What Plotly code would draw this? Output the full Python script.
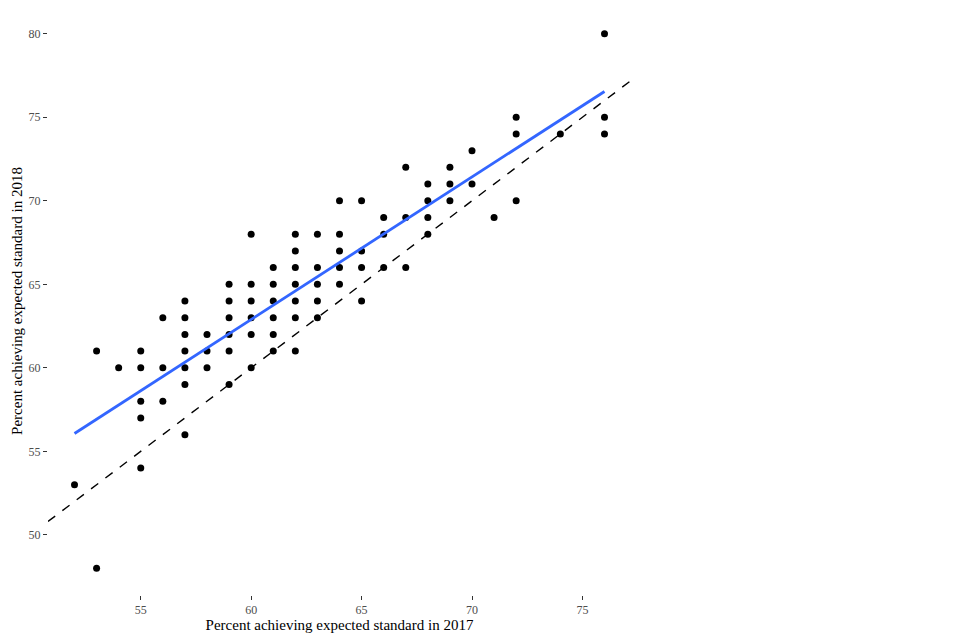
import numpy as np
import plotly.graph_objects as go

# Data (2017 % vs 2018 %)
x2017 = [52, 53, 53, 54,
         55, 55, 55, 55, 55,
         56, 56, 56,
         57, 57, 57, 57, 57, 57, 57,
         58, 58, 58,
         59, 59, 59, 59, 59, 59,
         60, 60, 60, 60, 60, 60,
         61, 61, 61, 61, 61, 61,
         62, 62, 62, 62, 62, 62, 62,
         63, 63, 63, 63, 63,
         64, 64, 64, 64, 64,
         65, 65, 65, 65,
         66, 66, 66,
         67, 67, 67,
         68, 68, 68, 68,
         69, 69, 69,
         70, 70,
         71,
         72, 72, 72,
         74,
         76, 76, 76]
y2018 = [53, 61, 48, 60,
         61, 60, 58, 57, 54,
         63, 60, 58,
         64, 63, 62, 61, 60, 59, 56,
         62, 61, 60,
         65, 64, 63, 62, 61, 59,
         68, 65, 64, 63, 62, 60,
         66, 65, 64, 63, 62, 61,
         68, 67, 66, 65, 64, 63, 61,
         68, 66, 65, 64, 63,
         70, 68, 67, 66, 65,
         70, 67, 66, 64,
         69, 68, 66,
         72, 69, 66,
         71, 70, 69, 68,
         72, 71, 70,
         73, 71,
         69,
         75, 74, 70,
         74,
         80, 75, 74]

x_ticks = [55, 60, 65, 70, 75]
y_ticks = [50, 55, 60, 65, 70, 75, 80]
x_title = "Percent achieving expected standard in 2017"
y_title = "Percent achieving expected standard in 2018"

xa = np.array(x2017, dtype=float)
ya = np.array(y2018, dtype=float)
slope, intercept = np.polyfit(xa, ya, 1)
fit_x = np.array([xa.min(), xa.max()])
fit_y = slope * fit_x + intercept

xpad = (xa.max() - xa.min()) * 0.05
ypad = (ya.max() - ya.min()) * 0.05
xr = [xa.min() - xpad, xa.max() + xpad]
yr = [ya.min() - ypad, ya.max() + ypad]

fig = go.Figure()
fig.add_trace(go.Scatter(x=xa, y=ya, mode="markers",
                         marker=dict(color="black", size=7),
                         showlegend=False, hoverinfo="skip"))
fig.add_trace(go.Scatter(x=xr, y=xr, mode="lines",
                         line=dict(color="black", width=1.4, dash="dash"),
                         showlegend=False, hoverinfo="skip"))
fig.add_trace(go.Scatter(x=fit_x, y=fit_y, mode="lines",
                         line=dict(color="#3366FF", width=2.8),
                         showlegend=False, hoverinfo="skip"))

fig.update_layout(
    width=960, height=640,
    margin=dict(l=48, r=329, t=7, b=45, autoexpand=False),
    plot_bgcolor="white", paper_bgcolor="white",
    font=dict(family="Liberation Serif", color="#4D4D4D"),
)
fig.update_xaxes(range=xr, tickvals=x_ticks, showgrid=False, zeroline=False,
                 showline=False, ticks="outside", ticklen=4, tickcolor="#333333",
                 tickwidth=1.2, automargin=False,
                 tickfont=dict(size=12, color="#4D4D4D", family="Liberation Serif"),
                 title=dict(text=x_title, standoff=2,
                            font=dict(size=15, color="black", family="Liberation Serif")))
fig.update_yaxes(range=yr, tickvals=y_ticks, showgrid=False, zeroline=False,
                 showline=False, ticks="outside", ticklen=4, tickcolor="#333333",
                 tickwidth=1.2, automargin=False,
                 tickfont=dict(size=12, color="#4D4D4D", family="Liberation Serif"),
                 title=dict(text=y_title, standoff=2,
                            font=dict(size=15, color="black", family="Liberation Serif")))

fig.write_html("out.html",
               config={"displayModeBar": False},
               post_script="document.body.style.margin='0';document.body.style.overflow='hidden';")
